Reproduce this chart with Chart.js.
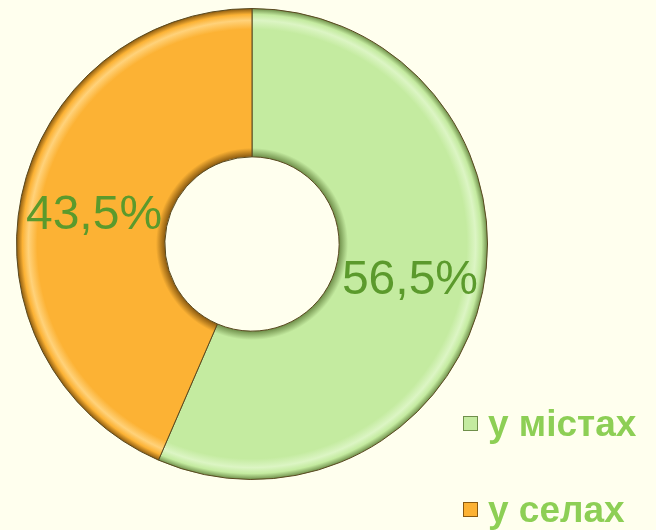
<!DOCTYPE html>
<html>
<head>
<meta charset="utf-8">
<script src="https://cdn.jsdelivr.net/npm/chart.js@4"></script>
<style>
  html, body { margin: 0; padding: 0; background: #ffffee; }
  #wrap { width: 656px; height: 530px; }
</style>
</head>
<body>
<div id="wrap"><canvas id="pie"></canvas></div>
<script>
const labels = ['у містах', 'у селах'];
const shares = [56.5, 43.5];
const colors = ['#c4eba0', '#fcb234'];
const lightColors = ['#dcf5c4', '#ffd27a'];
const edgeColors = ['#6f8f4a', '#8a5a10'];

// simple bevel: radial gradient across the ring
function bevel(c) {
  const chart = c.chart;
  const base = colors[c.dataIndex];
  const area = chart.chartArea;
  if (!area) return base;
  const ctrl = chart.getDatasetMeta(c.datasetIndex).controller;
  const ro = ctrl.outerRadius, ri = ctrl.innerRadius;
  if (!ro) return base;
  const cx = (area.left + area.right) / 2, cy = (area.top + area.bottom) / 2;
  const g = chart.ctx.createRadialGradient(cx, cy, ri, cx, cy, ro);
  const edge = edgeColors[c.dataIndex];
  g.addColorStop(0, edge);
  g.addColorStop(0.06, base);
  g.addColorStop(0.86, base);
  g.addColorStop(0.92, lightColors[c.dataIndex]);
  g.addColorStop(0.96, base);
  g.addColorStop(1, edge);
  return g;
}

const sliceLabels = {
  id: 'sliceLabels',
  afterDatasetsDraw(chart) {
    const ctx = chart.ctx;
    const meta = chart.getDatasetMeta(0);
    ctx.save();
    ctx.font = '48px "Liberation Sans", Arial, sans-serif';
    ctx.fillStyle = '#5b9a2c';
    ctx.textAlign = 'center';
    ctx.textBaseline = 'middle';
    meta.data.forEach((arc, i) => {
      const p = arc.tooltipPosition();
      ctx.fillText(shares[i].toFixed(1).replace('.', ',') + '%', p.x, p.y + 4);
    });
    ctx.restore();
  }
};

const sideLegend = {
  id: 'sideLegend',
  afterDraw(chart) {
    const ctx = chart.ctx;
    ctx.save();
    ctx.font = 'bold 37px "Liberation Sans", Arial, sans-serif';
    ctx.textBaseline = 'middle';
    labels.forEach((lab, i) => {
      const y = 424 + i * 86;
      ctx.fillStyle = colors[i];
      ctx.fillRect(463, y - 8, 15, 15);
      ctx.strokeStyle = edgeColors[i];
      ctx.lineWidth = 1;
      ctx.strokeRect(463.5, y - 7.5, 14, 14);
      ctx.fillStyle = '#8dcf55';
      ctx.fillText(lab, 488, y + 2);
    });
    ctx.restore();
  }
};

new Chart(document.getElementById('pie'), {
  type: 'doughnut',
  data: {
    labels: labels,
    datasets: [{
      data: shares,
      backgroundColor: bevel,
      borderColor: '#5a4a20',
      borderWidth: 1
    }]
  },
  options: {
    responsive: true,
    maintainAspectRatio: false,
    animation: false,
    cutout: '37%',
    layout: { padding: { left: 16, right: 168, top: 8, bottom: 50 } },
    plugins: {
      legend: { display: false },
      tooltip: { enabled: false }
    }
  },
  plugins: [sliceLabels, sideLegend]
});
</script>
</body>
</html>
